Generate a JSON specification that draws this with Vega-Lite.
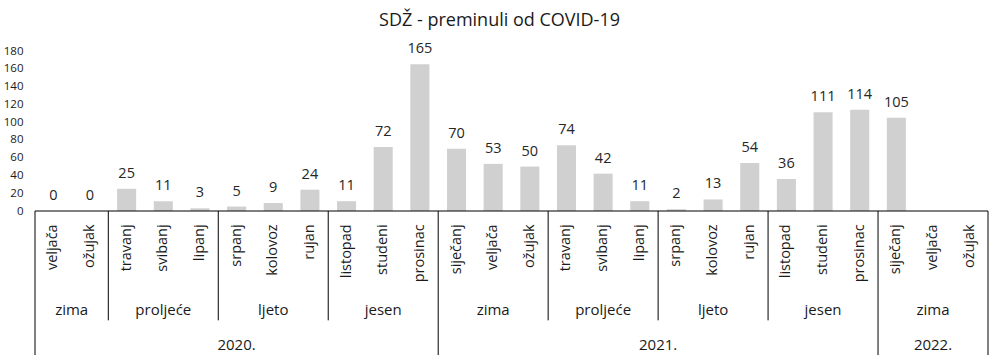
{
  "$schema": "https://vega.github.io/schema/vega-lite/v6.json",
  "autosize": "none",
  "width": 953,
  "height": 304,
  "padding": {"left": 35, "top": 51, "right": 9, "bottom": 4},
  "background": "white",
  "config": {"view": {"stroke": null}, "font": "Open Sans"},
  "resolve": {"axis": {"y": "independent", "x": "independent"}},
  "title": {
    "text": "SDŽ - preminuli od COVID-19",
    "font": "Open Sans",
    "fontSize": 18,
    "fontWeight": "normal",
    "color": "#1a1a1a",
    "anchor": "middle",
    "frame": "group",
    "dx": -12,
    "offset": 11
  },
  "datasets": {
    "months": [
      {"k": "2020-02", "m": "veljača", "v": 0},
      {"k": "2020-03", "m": "ožujak", "v": 0},
      {"k": "2020-04", "m": "travanj", "v": 25},
      {"k": "2020-05", "m": "svibanj", "v": 11},
      {"k": "2020-06", "m": "lipanj", "v": 3},
      {"k": "2020-07", "m": "srpanj", "v": 5},
      {"k": "2020-08", "m": "kolovoz", "v": 9},
      {"k": "2020-09", "m": "rujan", "v": 24},
      {"k": "2020-10", "m": "listopad", "v": 11},
      {"k": "2020-11", "m": "studeni", "v": 72},
      {"k": "2020-12", "m": "prosinac", "v": 165},
      {"k": "2021-01", "m": "siječanj", "v": 70},
      {"k": "2021-02", "m": "veljača", "v": 53},
      {"k": "2021-03", "m": "ožujak", "v": 50},
      {"k": "2021-04", "m": "travanj", "v": 74},
      {"k": "2021-05", "m": "svibanj", "v": 42},
      {"k": "2021-06", "m": "lipanj", "v": 11},
      {"k": "2021-07", "m": "srpanj", "v": 2},
      {"k": "2021-08", "m": "kolovoz", "v": 13},
      {"k": "2021-09", "m": "rujan", "v": 54},
      {"k": "2021-10", "m": "listopad", "v": 36},
      {"k": "2021-11", "m": "studeni", "v": 111},
      {"k": "2021-12", "m": "prosinac", "v": 114},
      {"k": "2022-01", "m": "siječanj", "v": 105},
      {"k": "2022-02", "m": "veljača", "v": null},
      {"k": "2022-03", "m": "ožujak", "v": null}
    ],
    "seasons": [
      {"k": "2020-03", "t": "zima", "a": "edge"},
      {"k": "2020-05", "t": "proljeće", "a": "mid"},
      {"k": "2020-08", "t": "ljeto", "a": "mid"},
      {"k": "2020-11", "t": "jesen", "a": "mid"},
      {"k": "2021-02", "t": "zima", "a": "mid"},
      {"k": "2021-05", "t": "proljeće", "a": "mid"},
      {"k": "2021-08", "t": "ljeto", "a": "mid"},
      {"k": "2021-11", "t": "jesen", "a": "mid"},
      {"k": "2022-02", "t": "zima", "a": "mid"}
    ],
    "years": [
      {"k": "2020-07", "t": "2020.", "a": "mid"},
      {"k": "2021-07", "t": "2021.", "a": "edge"},
      {"k": "2022-02", "t": "2022.", "a": "mid"}
    ],
    "seasonStarts": [
      {"k": "2020-04"}, {"k": "2020-07"}, {"k": "2020-10"},
      {"k": "2021-04"}, {"k": "2021-07"}, {"k": "2021-10"}
    ],
    "yearStarts": [
      {"k": "2020-02"}, {"k": "2021-01"}, {"k": "2022-01"}
    ],
    "lastMonth": [{"k": "2022-03"}]
  },
  "layer": [
    {
      "data": {"name": "months"},
      "mark": {"type": "bar", "color": "#d0d0d0", "width": {"band": 0.52}},
      "encoding": {
        "x": {"field": "k", "type": "nominal", "axis": null, "scale": {"paddingInner": 0, "paddingOuter": 0}},
        "y": {
          "field": "v", "type": "quantitative",
          "scale": {"domain": [-162, 180], "nice": false, "zero": false},
          "axis": {
            "values": [0, 20, 40, 60, 80, 100, 120, 140, 160, 180],
            "title": null, "domain": false, "ticks": false, "grid": false,
            "labelOverlap": false, "labelBound": false,
            "labelPadding": 12, "labelFontSize": 11.5, "labelColor": "#1a1a1a",
            "labelFont": "Open Sans"
          }
        }
      }
    },
    {
      "data": {"name": "months"},
      "transform": [{"filter": "datum.v != null"}],
      "mark": {"type": "text", "fontSize": 14.5, "color": "#262626", "baseline": "alphabetic", "dy": -11},
      "encoding": {
        "x": {"field": "k", "type": "nominal", "axis": null},
        "y": {"field": "v", "type": "quantitative", "axis": null},
        "text": {"field": "v", "type": "quantitative"}
      }
    },
    {
      "data": {"name": "months"},
      "mark": {"type": "text", "fontSize": 14.5, "color": "#1a1a1a", "angle": -90, "align": "right", "baseline": "middle"},
      "encoding": {
        "x": {"field": "k", "type": "nominal", "axis": null},
        "y": {"datum": -15, "axis": null},
        "text": {"field": "m"}
      }
    },
    {
      "data": {"name": "seasons"},
      "transform": [{"filter": "datum.a == 'mid'"}],
      "mark": {"type": "text", "fontSize": 15, "color": "#1a1a1a", "baseline": "middle"},
      "encoding": {
        "x": {"field": "k", "type": "nominal", "axis": null},
        "y": {"datum": -111, "axis": null},
        "text": {"field": "t"}
      }
    },
    {
      "data": {"name": "seasons"},
      "transform": [{"filter": "datum.a == 'edge'"}],
      "mark": {"type": "text", "fontSize": 15, "color": "#1a1a1a", "baseline": "middle"},
      "encoding": {
        "x": {"field": "k", "type": "nominal", "axis": null, "bandPosition": 0},
        "y": {"datum": -111, "axis": null},
        "text": {"field": "t"}
      }
    },
    {
      "data": {"name": "years"},
      "transform": [{"filter": "datum.a == 'mid'"}],
      "mark": {"type": "text", "fontSize": 15, "color": "#1a1a1a", "baseline": "middle"},
      "encoding": {
        "x": {"field": "k", "type": "nominal", "axis": null},
        "y": {"datum": -151, "axis": null},
        "text": {"field": "t"}
      }
    },
    {
      "data": {"name": "years"},
      "transform": [{"filter": "datum.a == 'edge'"}],
      "mark": {"type": "text", "fontSize": 15, "color": "#1a1a1a", "baseline": "middle"},
      "encoding": {
        "x": {"field": "k", "type": "nominal", "axis": null, "bandPosition": 0},
        "y": {"datum": -151, "axis": null},
        "text": {"field": "t"}
      }
    },
    {
      "data": {"name": "seasonStarts"},
      "mark": {"type": "rule", "color": "#000000", "strokeWidth": 1},
      "encoding": {
        "x": {"field": "k", "type": "nominal", "axis": null, "bandPosition": 0},
        "y": {"datum": 0, "axis": null},
        "y2": {"datum": -123}
      }
    },
    {
      "data": {"name": "yearStarts"},
      "mark": {"type": "rule", "color": "#000000", "strokeWidth": 1},
      "encoding": {
        "x": {"field": "k", "type": "nominal", "axis": null, "bandPosition": 0},
        "y": {"datum": 0, "axis": null},
        "y2": {"datum": -162}
      }
    },
    {
      "data": {"name": "lastMonth"},
      "mark": {"type": "rule", "color": "#000000", "strokeWidth": 1},
      "encoding": {
        "x": {"field": "k", "type": "nominal", "axis": null, "bandPosition": 1},
        "y": {"datum": 0, "axis": null},
        "y2": {"datum": -162}
      }
    },
    {
      "data": {"name": "lastMonth"},
      "mark": {"type": "rule", "color": "#000000", "strokeWidth": 1},
      "encoding": {
        "y": {"datum": 0, "axis": null}
      }
    }
  ]
}
